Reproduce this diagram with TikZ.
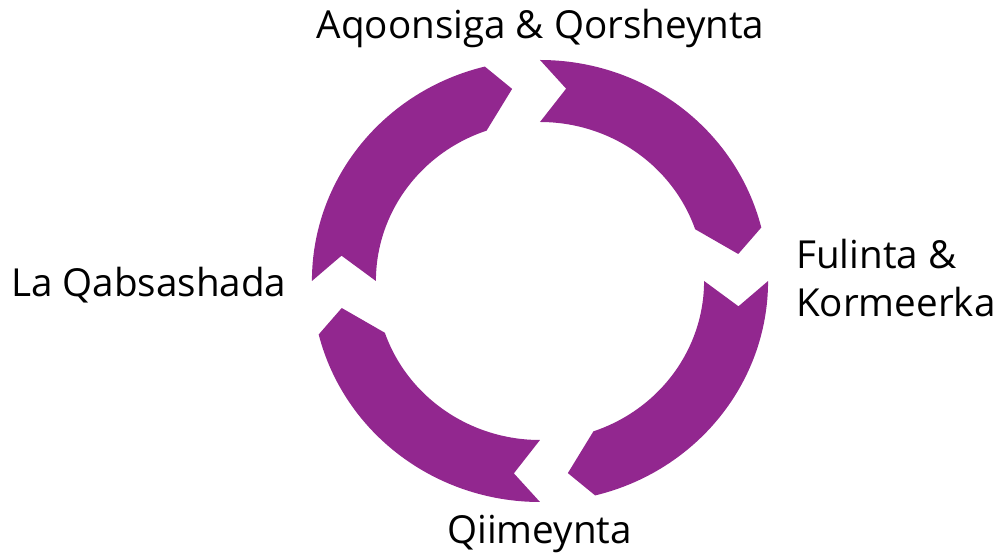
\documentclass[tikz,border=0pt]{standalone}
\usepackage{fontspec}
\setmainfont{Open Sans}
\usepackage{tikz}
\definecolor{cyclepurple}{HTML}{92278F}
\tikzset{seg/.style={fill=cyclepurple, draw=none}}
\tikzset{lbl/.style={font=\fontsize{38.6}{48}\selectfont, inner sep=0pt}}
\newcommand{\Rout}{221}
\newcommand{\Rin}{159}
\newcommand{\Rmid}{194}

\begin{document}
\begin{tikzpicture}[x=1pt, y=1pt]
    \useasboundingbox (-540,-278) rectangle (457,281);
    \begin{scope}[xscale=1.032]
      \foreach \a in {90,0,-90,-180} {
        \fill[seg] (\a:\Rout) arc[start angle=\a, end angle=\a-76, radius=\Rout]
          -- ({\a-82}:\Rmid) -- ({\a-71}:\Rin)
          arc[start angle=\a-71, end angle=\a, radius=\Rin]
          -- ({\a-7.5}:\Rmid) -- cycle;
      }
    \end{scope}
    \node[lbl, anchor=base] (plan) at (0.5,242.7) {Aqoonsiga \& Qorsheynta};
    \node[lbl, anchor=base west, align=left] (impl) at (256,-35.7) {Fulinta \&\\Kormeerka};
    \node[lbl, anchor=base] (eval) at (-0.5,-263) {Qiimeynta};
    \node[lbl, anchor=base west] (adapt) at (-529,-16) {La Qabsashada};
  \end{tikzpicture}
\end{document}
